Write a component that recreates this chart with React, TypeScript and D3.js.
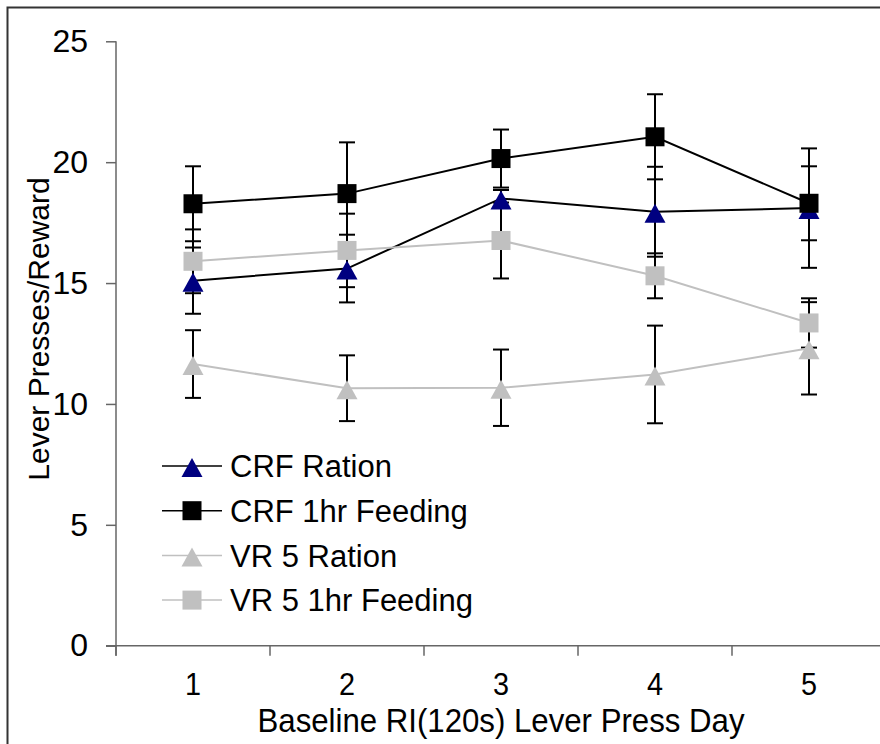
import React, { useEffect, useRef } from 'react';
import * as d3 from 'd3';

const days = [1, 2, 3, 4, 5];
const seriesNames = ['CRF Ration', 'CRF 1hr Feeding', 'VR 5 Ration', 'VR 5 1hr Feeding'];

const crfRation = [15.1, 15.6, 18.5, 17.95, 18.1];
const crfRationErr = [1.37, 1.4, 0.35, 1.86, 2.47];
const crfFeeding = [18.28, 18.7, 20.15, 21.05, 18.3];
const crfFeedingErr = [1.55, 2.12, 1.2, 1.76, 1.53];
const vrRation = [11.65, 10.65, 10.67, 11.22, 12.3];
const vrRationErr = [1.4, 1.36, 1.58, 2.02, 1.91];
const vrFeeding = [15.9, 16.35, 16.76, 15.3, 13.35];
const vrFeedingErr = [1.32, 1.52, 1.57, 0.93, 1.02];

const yTicks = [0, 5, 10, 15, 20, 25];

const FONT = '"Liberation Sans", Arial, sans-serif';
const W = 880;
const H = 744;

const App = () => {
  const svgRef = useRef<SVGSVGElement>(null);

  useEffect(() => {
    const svg = d3.select(svgRef.current);
    svg.selectAll('*').remove();

    const series = [
      { name: seriesNames[0], values: crfRation, err: crfRationErr, shape: 'triangle', fill: '#000080', line: '#000000' },
      { name: seriesNames[1], values: crfFeeding, err: crfFeedingErr, shape: 'square', fill: '#000000', line: '#000000' },
      { name: seriesNames[2], values: vrRation, err: vrRationErr, shape: 'triangle', fill: '#c0c0c0', line: '#c0c0c0' },
      { name: seriesNames[3], values: vrFeeding, err: vrFeedingErr, shape: 'square', fill: '#c0c0c0', line: '#c0c0c0' },
    ];

    const x = d3.scaleBand<number>().domain(days).range([116, 886]).padding(0);
    const cx = (d: number) => (x(d) as number) + x.bandwidth() / 2;
    const y = d3.scaleLinear().domain([0, 25]).range([645.7, 41.3]);

    // outer frame (cropped on right and bottom)
    svg.append('rect')
      .attr('x', 7.5).attr('y', 7.5)
      .attr('width', 920).attr('height', 800)
      .attr('fill', 'none').attr('stroke', '#333').attr('stroke-width', 2);

    // y axis
    const yAxis = svg.append('g')
      .attr('transform', 'translate(116,0)')
      .call(d3.axisLeft(y).tickValues(yTicks).tickSize(10).tickSizeOuter(0).tickPadding(18));
    yAxis.select('.domain').remove();
    yAxis.selectAll('line').attr('stroke', '#666').attr('stroke-width', 1.5);
    yAxis.selectAll('text')
      .attr('font-family', FONT).attr('font-size', 32).attr('fill', '#000');
    svg.append('line')
      .attr('x1', 116).attr('x2', 116)
      .attr('y1', y(25)).attr('y2', y(0) + 10)
      .attr('stroke', '#666').attr('stroke-width', 1.5);

    // x axis
    svg.append('line')
      .attr('x1', 106).attr('x2', 886)
      .attr('y1', y(0)).attr('y2', y(0))
      .attr('stroke', '#666').attr('stroke-width', 1.5);
    const bounds = [...days.map((d) => x(d) as number), x.range()[1]];
    svg.append('g').selectAll('line')
      .data(bounds)
      .enter()
      .append('line')
      .attr('x1', (d) => d).attr('x2', (d) => d)
      .attr('y1', y(0)).attr('y2', y(0) + 10)
      .attr('stroke', '#666').attr('stroke-width', 1.5);
    svg.append('g').selectAll('text')
      .data(days)
      .enter()
      .append('text')
      .attr('transform', (d) => `translate(${cx(d)},695) scale(0.9,1)`)
      .attr('text-anchor', 'middle')
      .attr('font-family', FONT).attr('font-size', 32)
      .text((d) => d);

    // axis titles
    svg.append('text')
      .attr('x', cx(3)).attr('y', 732)
      .attr('text-anchor', 'middle')
      .attr('font-family', FONT).attr('font-size', 33)
      .attr('textLength', 487).attr('lengthAdjust', 'spacingAndGlyphs')
      .text('Baseline RI(120s) Lever Press Day');
    svg.append('text')
      .attr('transform', 'translate(49,329) rotate(-90)')
      .attr('text-anchor', 'middle')
      .attr('font-family', FONT).attr('font-size', 30)
      .text('Lever Presses/Reward');

    const marker = (g: any, shape: string, px: number, py: number, fill: string) => {
      if (shape === 'square') {
        g.append('rect')
          .attr('x', px - 9.5).attr('y', py - 9.5)
          .attr('width', 19).attr('height', 19)
          .attr('fill', fill);
      } else {
        g.append('path')
          .attr('d', `M${px},${py - 8}L${px + 10.5},${py + 11}L${px - 10.5},${py + 11}Z`)
          .attr('fill', fill);
      }
    };

    // error bars
    const eb = svg.append('g').attr('stroke', '#000').attr('stroke-width', 2);
    series.forEach((s) => {
      s.values.forEach((v, i) => {
        const px = cx(days[i]);
        const top = y(v + s.err[i]);
        const bot = y(v - s.err[i]);
        eb.append('line').attr('x1', px).attr('x2', px).attr('y1', top).attr('y2', bot);
        eb.append('line').attr('x1', px - 8).attr('x2', px + 8).attr('y1', top).attr('y2', top);
        eb.append('line').attr('x1', px - 8).attr('x2', px + 8).attr('y1', bot).attr('y2', bot);
      });
    });

    // lines and markers
    const line = d3.line<number>()
      .x((_, i) => cx(days[i]))
      .y((d) => y(d));
    series.forEach((s) => {
      const g = svg.append('g');
      g.append('path')
        .attr('d', line(s.values))
        .attr('fill', 'none')
        .attr('stroke', s.line)
        .attr('stroke-width', 2);
      s.values.forEach((v, i) => marker(g, s.shape, cx(days[i]), y(v), s.fill));
    });

    // legend
    const legend = svg.append('g');
    series.forEach((s, i) => {
      const ly = 466 + i * 44.7;
      legend.append('line')
        .attr('x1', 162).attr('x2', 222)
        .attr('y1', ly).attr('y2', ly)
        .attr('stroke', s.line).attr('stroke-width', 1.5);
      marker(legend, s.shape, 192, ly, s.fill);
      legend.append('text')
        .attr('x', 230).attr('y', ly)
        .attr('dy', '0.36em')
        .attr('font-family', FONT).attr('font-size', 31)
        .text(s.name);
    });
  }, []);

  return (
    <>
      <style>{'body{margin:0}'}</style>
      <svg ref={svgRef} width={W} height={H} style={{ display: 'block', background: '#fff' }}></svg>
    </>
  );
};

export default App;
